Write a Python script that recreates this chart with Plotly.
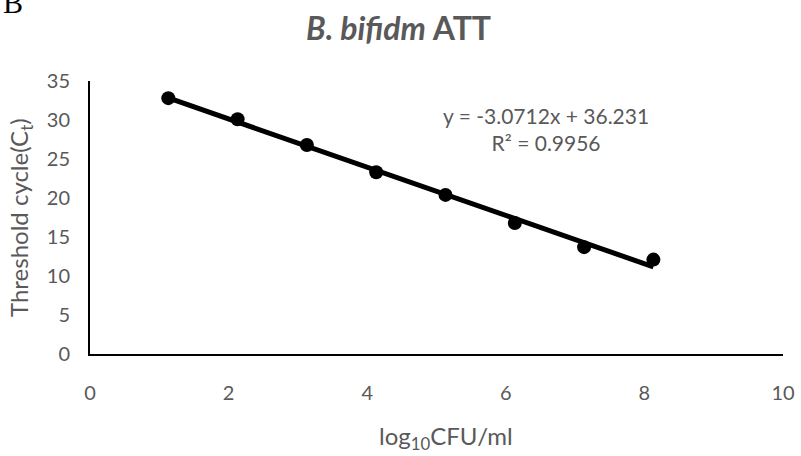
import numpy as np
import plotly.graph_objects as go

# Data
log_cfu = [1.13, 2.13, 3.13, 4.13, 5.13, 6.13, 7.13, 8.13]
ct_values = [32.8, 30.1, 26.8, 23.3, 20.4, 16.8, 13.7, 12.1]
x_ticks = [0, 2, 4, 6, 8, 10]
y_ticks = [0, 5, 10, 15, 20, 25, 30, 35]
equation_text = "y = -3.0712x + 36.231"
r2_text = "R² = 0.9956"

slope, intercept = np.polyfit(log_cfu, ct_values, 1)
trend_x = [log_cfu[0], log_cfu[-1]]
trend_y = [slope * v + intercept for v in trend_x]

gray = "#595959"
font = "Lato, 'Open Sans', sans-serif"

L, R, T, B = 90, 18, 81, 102
W, H = 801, 456
PW, PH = W - L - R, H - T - B


def px(x):
    return (x - L) / PW


def py(y):
    return (H - B - y) / PH


fig = go.Figure()
fig.add_trace(go.Scatter(x=trend_x, y=trend_y, mode="lines",
                         line=dict(color="black", width=5), hoverinfo="skip"))
fig.add_trace(go.Scatter(x=log_cfu, y=ct_values, mode="markers",
                         marker=dict(color="black", size=14)))

fig.update_layout(
    width=W, height=H,
    margin=dict(l=L, r=R, t=T, b=B),
    paper_bgcolor="white", plot_bgcolor="white",
    showlegend=False,
    font=dict(family=font, color=gray, size=20),
    xaxis=dict(range=[0, 10], tickvals=x_ticks, showgrid=False, zeroline=False,
               showline=True, linecolor="black", linewidth=2, automargin=False,
               ticks="outside", ticklen=20, tickcolor="rgba(0,0,0,0)",
               tickfont=dict(size=20, color=gray, family=font)),
    yaxis=dict(range=[0, 35], tickvals=y_ticks, showgrid=False, zeroline=False,
               showline=True, linecolor="black", linewidth=2, automargin=False,
               ticks="outside", ticklen=14, tickcolor="rgba(0,0,0,0)",
               tickfont=dict(size=20, color=gray, family=font)),
    annotations=[
        dict(text="<b><i>B. bifidm</i> ATT</b>", xref="paper", yref="paper",
             x=px(398), y=py(27), xanchor="center", yanchor="middle",
             showarrow=False, font=dict(size=32, color=gray, family=font)),
        dict(text="B", xref="paper", yref="paper",
             x=px(1), y=py(3), xanchor="left", yanchor="middle",
             showarrow=False,
             font=dict(size=30, color="black", family="'Liberation Serif', 'DejaVu Serif', serif")),
        dict(text=equation_text + "<br>" + r2_text, xref="paper", yref="paper",
             x=px(546), y=py(129), xanchor="center", yanchor="middle",
             showarrow=False, align="center",
             font=dict(size=21, color=gray, family=font)),
        dict(text="log<sub>10</sub>CFU/ml", xref="paper", yref="paper",
             x=px(446), y=py(437), xanchor="center", yanchor="middle",
             showarrow=False, font=dict(size=24, color=gray, family=font)),
        dict(text="Threshold cycle(C<sub>t</sub>)", xref="paper", yref="paper",
             x=px(20), y=py(218), xanchor="center", yanchor="middle", textangle=-90,
             showarrow=False, font=dict(size=24, color=gray, family=font)),
    ],
)

fig.write_html("out.html")
